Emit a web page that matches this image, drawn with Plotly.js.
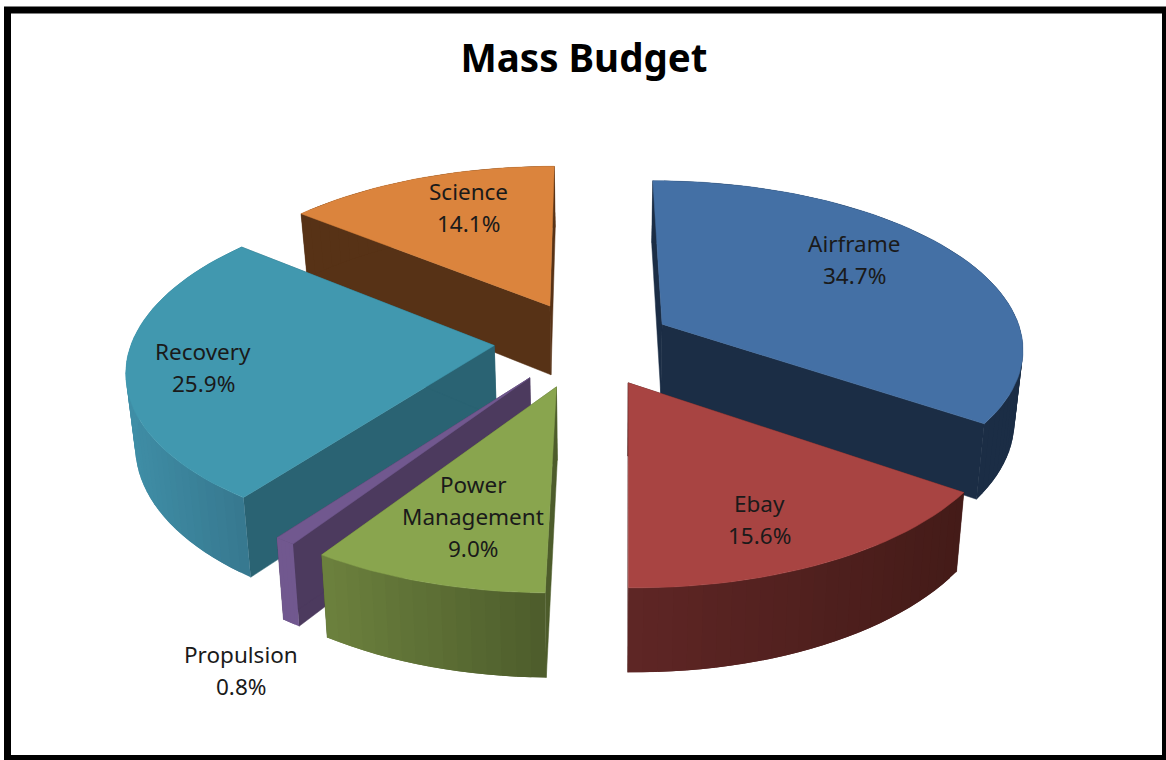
<!DOCTYPE html>
<html>
<head>
<meta charset="utf-8">
<script src="https://cdn.plot.ly/plotly-3.0.1.min.js"></script>
<style>html,body{margin:0;padding:0;background:#fff;overflow:hidden}#chart{width:1166px;height:760px}</style>
</head>
<body>
<div id="chart"></div>
<script>
// ---- data ----
const categories = ["Airframe", "Ebay", "Power Management", "Propulsion", "Recovery", "Science"];
const shares = [34.7, 15.6, 9.0, 0.8, 25.9, 14.1];
const shareLabels = ["34.7%", "15.6%", "9.0%", "0.8%", "25.9%", "14.1%"];
const chartTitle = "Mass Budget";

// ---- styling ----
const topColors   = ["#4470a5", "#a84442", "#89a54e", "#71588f", "#4198af", "#db843d"];
const wallColors  = ["#1b2d45", "#441b18", "#4d5c2b", "#4c3a5e", "#2a6373", "#573216"];
const rimLeft     = ["#1b2d45", "#5f2625", "#6c813e", "#71588f", "#3f8ea6", "#573216"];
const rimRight    = ["#1b2d45", "#441b18", "#4d5c2b", "#71588f", "#37788f", "#573216"];
const drawOrder   = [5, 0, 4, 1, 3, 2];
const sliceNudgeX = [-3, 1, 2, 2, 5, 6];
const sliceNudgeY = [-1, -2, -1, -4, -5, -1];
const labelLines  = {
  "Airframe": [854, 243], "Ebay": [759, 503], "Power Management": [473, 484],
  "Propulsion": [241, 654], "Recovery": [203, 351], "Science": [468, 191]
};

// ---- projection of the tilted pie onto the axes ----
const X0 = 583, Y0 = 345, A = 362, B = 167, TILT = 0.13, DROP = 71, SHRINK = 0.98, PULL = 0.26, XC = 15;
function project(wx, wy, low) {
  const s = 1 / (1 - TILT * wy);
  let x = wx * A * s, y = wy * B * s;
  if (low) { x = XC + (x - XC) * SHRINK; y += DROP * s; }
  return [X0 + x, Y0 + y];
}
function lerpColor(c1, c2, t) {
  const p = c => [1, 3, 5].map(i => parseInt(c.substr(i, 2), 16));
  const a = p(c1), b = p(c2);
  return "rgb(" + a.map((v, i) => Math.round(v + (b[i] - v) * t)).join(",") + ")";
}
function poly(pts, color, lineWidth, dx, dy) {
  return {
    type: "scatter", mode: "lines", fill: "toself", fillcolor: color,
    x: pts.map(p => p[0] + dx), y: pts.map(p => p[1] + dy),
    line: { color: color, width: lineWidth }, hoverinfo: "skip", showlegend: false
  };
}

const total = shares.reduce((a, b) => a + b, 0);
let cum = 0;
const wedges = shares.map(v => {
  const start = cum / total * 2 * Math.PI;
  cum += v;
  return { start: start, end: cum / total * 2 * Math.PI };
});

const traces = [];
drawOrder.forEach(i => {
  const w = wedges[i], mid = (w.start + w.end) / 2;
  const dx = sliceNudgeX[i], dy = sliceNudgeY[i];
  const ox = PULL * Math.sin(mid), oy = -PULL * Math.cos(mid);
  const at = a => [ox + Math.sin(a), oy - Math.cos(a)];
  const steps = Math.max(4, Math.round((w.end - w.start) / 0.035));
  const angles = [];
  for (let k = 0; k <= steps; k++) angles.push(w.start + (w.end - w.start) * k / steps);

  // the two flat cut faces
  const apexT = project(ox, oy, false), apexB = project(ox, oy, true);
  [w.start, w.end].forEach(a => {
    const e = at(a);
    traces.push(poly([apexT, project(e[0], e[1], false), project(e[0], e[1], true), apexB, apexT], wallColors[i], 0.5, dx, dy));
  });
  // curved rim: overlapping bands so no seams show between them
  const rimPts = angles.map(a => at(a));
  const xs = rimPts.map(e => project(e[0], e[1], false)[0]);
  const minX = Math.min(...xs), maxX = Math.max(...xs);
  for (let k = 0; k < steps; k++) {
    const e1 = rimPts[k], e2 = rimPts[Math.min(k + 2, steps)];
    const t = ((xs[k] + xs[k + 1]) / 2 - minX) / (maxX - minX || 1);
    const c = lerpColor(rimLeft[i], rimRight[i], t);
    traces.push(poly([project(e1[0], e1[1], false), project(e2[0], e2[1], false),
                      project(e2[0], e2[1], true), project(e1[0], e1[1], true),
                      project(e1[0], e1[1], false)], c, 0, dx, dy));
  }
  // top face
  const top = [apexT].concat(rimPts.map(e => project(e[0], e[1], false)), [apexT]);
  traces.push(poly(top, topColors[i], 0.5, dx, dy));
});

// ---- labels ----
const annotations = [];
categories.forEach((name, i) => {
  const lines = (name === "Power Management" ? ["Power", "Management"] : [name]).concat([shareLabels[i]]);
  const pos = labelLines[name];
  lines.forEach((t, k) => annotations.push({
    x: pos[0], y: pos[1] + k * 32, xref: "x", yref: "y", text: t, showarrow: false,
    xanchor: "center", yanchor: "middle",
    font: { family: "Noto Sans, sans-serif", size: 22.5, color: "#1a1a1a" }
  }));
});

const layout = {
  width: 1166, height: 760,
  margin: { l: 0, r: 0, t: 0, b: 0, pad: 0 },
  paper_bgcolor: "#ffffff", plot_bgcolor: "#ffffff",
  showlegend: false,
  title: {
    text: "<b>" + chartTitle + "</b>", x: 584 / 1166, y: 1 - 59 / 760,
    xanchor: "center", yanchor: "middle", xref: "paper", yref: "container",
    font: { family: "Noto Sans, sans-serif", size: 38.5, color: "#000000" }
  },
  xaxis: { range: [0, 1166], visible: false, fixedrange: true },
  yaxis: { range: [760, 0], visible: false, fixedrange: true },
  shapes: [{
    type: "rect", xref: "x", yref: "y", x0: 7.5, y0: 10, x1: 1165.5, y1: 758.5,
    line: { color: "#000000", width: 7 }, fillcolor: "rgba(0,0,0,0)", layer: "below"
  }],
  annotations: annotations
};
Plotly.newPlot("chart", traces, layout, { displayModeBar: false, staticPlot: true });
</script>
</body>
</html>
